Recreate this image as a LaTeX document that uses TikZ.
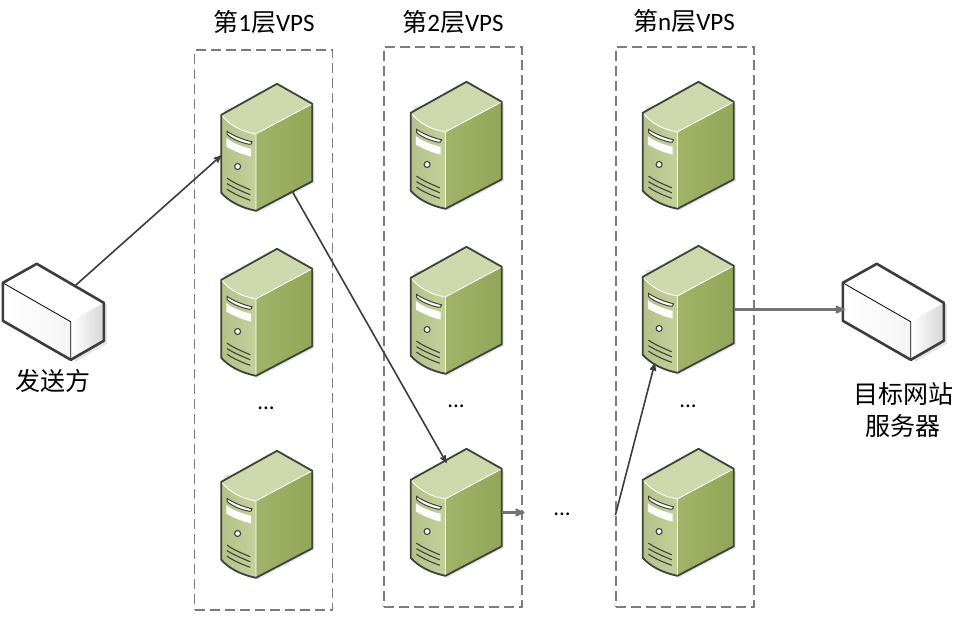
\documentclass[tikz,border=0pt]{standalone}
\usepackage{fontspec}
\setmainfont{Carlito}
\newfontfamily\cjk{Noto Sans CJK SC}
\usetikzlibrary{arrows}
\definecolor{vpsline}{HTML}{3F4239}
\definecolor{vpstop}{HTML}{CDD8AC}
\definecolor{vpsfront}{HTML}{BECB90}
\definecolor{vpsside}{HTML}{98AD5C}
\definecolor{boxline}{HTML}{3C3C3C}
\definecolor{frameline}{HTML}{7C7C7C}
\tikzset{
	server/.style={minimum width=91pt,minimum height=127pt,inner sep=0pt},
	cuboid/.style={minimum width=102pt,minimum height=96pt,inner sep=0pt},
	frame/.style={draw=frameline,line width=1.15pt,dash pattern=on 10pt off 5pt,minimum width=138pt,minimum height=560pt,inner sep=0pt},
	title/.style={font=\fontsize{25}{32}\selectfont,align=center,inner sep=0pt},
	more/.style={font=\fontsize{23}{24}\selectfont,inner sep=0pt},
	link/.style={->,>=stealth',draw=boxline,line width=1.6pt},
	flat link/.style={link,line width=2.1pt,draw=boxline!72},
	vps/.pic={
		\fill[black!10] (3,24) -- (93,22) -- (93,99) -- (36,129) -- (3,112) -- cycle;
		\fill[vpstop] (0,31) -- (55.7,0) -- (91,20) -- (34.7,50) .. controls (20,48) and (8,41) .. (0,31) -- cycle;
		\shade[left color=vpsfront!95!black,right color=vpsfront!90!white] (0,31) .. controls (8,41) and (20,48) .. (34.7,50) -- (34.7,127) .. controls (20,124) and (8,118) .. (0,109) -- cycle;
		\shade[left color=vpsside!92!white,right color=vpsside!96!black] (34.7,50) -- (91,20) -- (91,97.5) -- (34.7,127) -- cycle;
		\draw[white,line width=0.9pt] (0,31) .. controls (8,41) and (20,48) .. (34.7,50) -- (91,20) (34.7,50) -- (34.7,127);
		\draw[vpsline,line width=1.8pt,line join=round] (0,31) -- (55.7,0) -- (91,20) -- (91,97.5) -- (34.7,127) .. controls (20,124) and (8,118) .. (0,109) -- cycle;
		\draw[vpsline,fill=white,line width=1pt] (5.7,47.5) .. controls (12,52) and (22,56) .. (30.7,58) .. controls (31,60.5) and (29,60.5) .. (28,60.5) .. controls (20,59) and (10,55) .. (5.7,50.5) -- cycle;
		\fill[white] (5,54.3) .. controls (12,60) and (22,63) .. (29.7,65) -- (29.7,72.7) .. controls (22,71) and (12,67) .. (5,62.7) -- cycle;
		\draw[vpsline,fill=white,line width=1.1pt] (16.3,82.7) circle (3);
		\draw[vpsline,line width=1.1pt] (5.7,94.3) .. controls (12,99) and (22,103) .. (29,106);
		\draw[vpsline,line width=1.1pt] (5.7,99.8) .. controls (12,104) and (22,108) .. (29,111);
		\draw[vpsline,line width=1.1pt] (5.7,105.3) .. controls (12,110) and (22,114) .. (29,116.5);
	},
	block/.pic={
		\fill[black!10] (71,99) -- (104,80) -- (104,40) -- (71,60) -- cycle;
		\fill[white] (0,19) -- (34,0) -- (101,39) -- (68,58) -- cycle;
		\shade[left color=white,right color=black!4] (0,19) -- (68,58) -- (68,96) -- (0,57) -- cycle;
		\shade[left color=white,right color=black!16] (68,58) -- (101,39) -- (101,77) -- (68,96) -- cycle;
		\draw[black,line width=0.8pt] (0,19) -- (68,58) -- (68,96);
		\draw[boxline,line width=2.6pt,line join=round] (0,19) -- (34,0) -- (101,39) -- (101,77) -- (68,96) -- (0,57) -- cycle;
	}
}

\begin{document}
\begin{tikzpicture}[x=1pt,y=-1pt]
	\useasboundingbox (0,0) rectangle (955,616);
	% frames
	\node [frame] (col1) at (263.5,330) {};
	\node [frame] (col2) at (453,327) {};
	\node [frame] (col3) at (685,327) {};
	\node [title] (head1) at (264,22) {{\cjk 第}1{\cjk 层}VPS};
	\node [title] (head2) at (453,22) {{\cjk 第}2{\cjk 层}VPS};
	\node [title] (head3) at (684,21) {{\cjk 第}n{\cjk 层}VPS};
	% first layer
	\node [server] (a1) at (267,147.5) {};
	\pic at (a1.north west) {vps};
	\node [server] (a2) at (267,312.5) {};
	\pic at (a2.north west) {vps};
	\node [server] (a3) at (267,514.5) {};
	\pic at (a3.north west) {vps};
	\node [more] (dots1) at (266,408) {...};
	% second layer
	\node [server] (b1) at (456.5,145.5) {};
	\pic at (b1.north west) {vps};
	\node [server] (b2) at (456.5,310.5) {};
	\pic at (b2.north west) {vps};
	\node [server] (b3) at (456.5,512.5) {};
	\pic at (b3.north west) {vps};
	\node [more] (dots2) at (456,406) {...};
	% last layer
	\node [server] (c1) at (688.5,145.5) {};
	\pic at (c1.north west) {vps};
	\node [server] (c2) at (688.5,309.5) {};
	\pic at (c2.north west) {vps};
	\node [server] (c3) at (688.5,512.5) {};
	\pic at (c3.north west) {vps};
	\node [more] (dots3) at (688,406) {...};
	\node [more] (dots4) at (562,514) {...};
	% both ends
	\node [cuboid] (sender) at (54,312) {};
	\pic at (sender.north west) {block};
	\node [title] (sendertext) at (53,381) {\cjk 发送方};
	\node [cuboid] (target) at (894,312) {};
	\pic at (target.north west) {block};
	\node [title] (targettext) at (903,410) {\cjk 目标网站\\\cjk 服务器};
	% route
	\draw [link] ([xshift=21pt,yshift=-22pt]sender.north) -- ([yshift=-8pt]a1.west);
	\draw [link] ([xshift=-20pt,yshift=19pt]a1.south east) -- ([xshift=-10pt,yshift=-14pt]b3.north);
	\draw [flat link] (b3.east) -- ([xshift=2pt]col2.east |- b3.east);
	\draw [link] (col3.west |- 0,515) -- ([xshift=12pt,yshift=10pt]c2.south west);
	\draw [flat link] (c2.east) -- ([xshift=2pt,yshift=2.5pt]target.west);
\end{tikzpicture}
\end{document}
